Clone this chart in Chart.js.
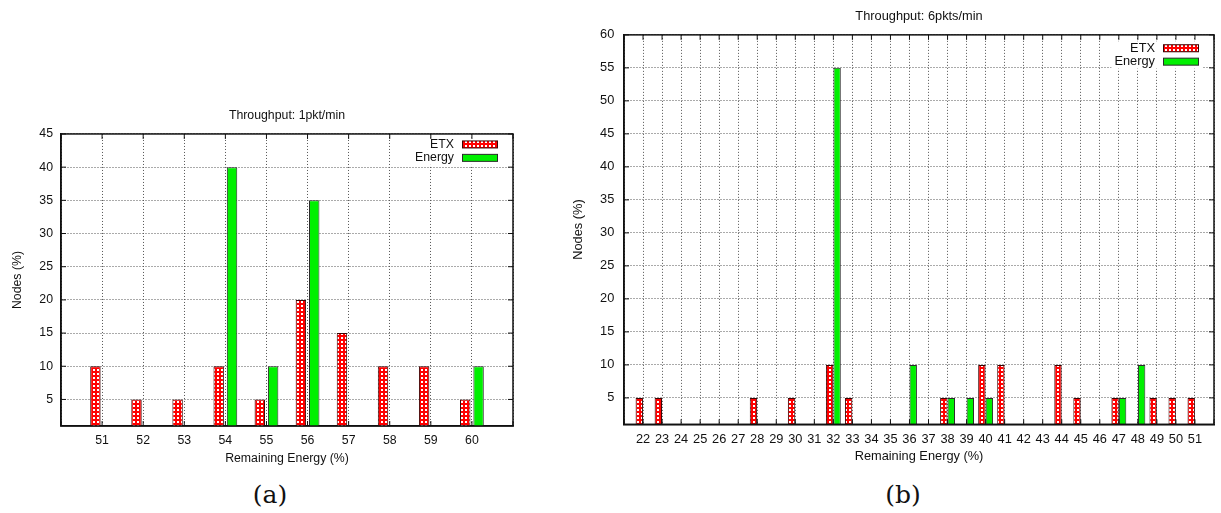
<!DOCTYPE html>
<html>
<head>
<meta charset="utf-8">
<script src="https://cdn.jsdelivr.net/npm/chart.js@4.4.0/dist/chart.umd.min.js"></script>
<style>
    html, body { margin: 0; padding: 0; background: #fff; }
    body { width: 1221px; height: 513px; position: relative; overflow: hidden; }
    .box { position: absolute; }
    .cap { position: absolute; font-family: "DejaVu Serif", serif; font-size: 25px; color: #111;
           transform: translate(-50%, -50%); white-space: nowrap; }
</style>
</head>
<body>
<div class="box" style="left:0;top:100px;width:530px;height:370px"><canvas id="dashGraphA"></canvas></div>
<div class="box" style="left:560px;top:0;width:661px;height:470px"><canvas id="dashGraphB"></canvas></div>
<div class="cap" style="left:270px;top:494px">(a)</div>
<div class="cap" style="left:903px;top:494px">(b)</div>
<script>
// (a) Throughput: 1pkt/min
const remainingA = ['51', '52', '53', '54', '55', '56', '57', '58', '59', '60'];
const etxA = [10, 5, 5, 10, 5, 20, 15, 10, 10, 5];
const energyA = [0, 0, 0, 40, 10, 35, 0, 0, 0, 10];

// (b) Throughput: 6pkts/min
const remainingB = ['22', '23', '24', '25', '26', '27', '28', '29', '30', '31',
                    '32', '33', '34', '35', '36', '37', '38', '39', '40', '41',
                    '42', '43', '44', '45', '46', '47', '48', '49', '50', '51'];
const etxB = [5, 5, 0, 0, 0, 0, 5, 0, 5, 0,
              10, 5, 0, 0, 0, 0, 5, 0, 10, 10,
              0, 0, 10, 5, 0, 5, 0, 5, 5, 5];
const energyB = [0, 0, 0, 0, 0, 0, 0, 0, 0, 0,
                 55, 0, 0, 0, 10, 0, 5, 5, 5, 0,
                 0, 0, 0, 0, 0, 5, 10, 0, 0, 0];

const FONT = '"Liberation Sans", Arial, sans-serif';
const TEXT = '#111';

// red checkered fill like gnuplot's pattern
function make_pattern() {
    const tile = document.createElement('canvas');
    tile.width = 4;
    tile.height = 4;
    const c = tile.getContext('2d');
    c.fillStyle = '#ff0000';
    c.fillRect(0, 0, 4, 4);
    c.fillStyle = '#ffffff';
    c.fillRect(1, 1, 2, 2);
    return c.createPattern(tile, 'repeat');
}
const etxFill = make_pattern();

// full box + inward ticks
const framePlugin = {
    id: 'frame',
    afterDraw(chart) {
        const ctx = chart.ctx;
        const a = chart.chartArea;
        const x = chart.scales.x, y = chart.scales.y;
        ctx.save();
        ctx.strokeStyle = TEXT;
        ctx.lineWidth = 1;
        ctx.beginPath();
        for (let i = 0; i < x.ticks.length; i++) {
            const px = x.getPixelForTick(i);
            ctx.moveTo(px, a.bottom); ctx.lineTo(px, a.bottom - 5);
            ctx.moveTo(px, a.top); ctx.lineTo(px, a.top + 5);
        }
        for (let i = 0; i < y.ticks.length; i++) {
            const py = y.getPixelForTick(i);
            ctx.moveTo(a.left, py); ctx.lineTo(a.left + 5, py);
            ctx.moveTo(a.right, py); ctx.lineTo(a.right - 5, py);
        }
        ctx.stroke();
        ctx.lineWidth = 1.5;
        ctx.strokeRect(a.left, a.top, a.right - a.left, a.bottom - a.top);
        ctx.restore();
    }
};

// key in the top right corner, text before the swatch
const keyPlugin = {
    id: 'insideKey',
    afterDatasetsDraw(chart, args, opts) {
        const ctx = chart.ctx;
        const a = chart.chartArea;
        const sets = chart.data.datasets;
        const swRight = a.right - 15;
        const swLeft = swRight - 36;
        ctx.save();
        ctx.font = opts.size + 'px ' + FONT;
        let widest = 0;
        for (let ds of sets) widest = Math.max(widest, ctx.measureText(ds.label).width);
        ctx.fillStyle = '#fff';
        ctx.fillRect(swLeft - 8 - widest - 3, a.top + opts.top - 7,
                     widest + 8 + 36 + 6, opts.row * (sets.length - 1) + 14);
        sets.forEach((ds, i) => {
            const yc = a.top + opts.top + i * opts.row;
            ctx.fillStyle = TEXT;
            ctx.textAlign = 'right';
            ctx.textBaseline = 'middle';
            ctx.fillText(ds.label, swLeft - 8, yc);
            ctx.fillStyle = ds.backgroundColor;
            ctx.fillRect(swLeft, yc - 3.5, 36, 7);
            ctx.strokeStyle = ds.borderColor;
            ctx.lineWidth = 1;
            ctx.strokeRect(swLeft + 0.5, yc - 3.5, 35, 7);
        });
        ctx.restore();
    }
};

function make_graph(id, spec) {
    const canv = document.getElementById(id).getContext('2d');
    const font = { family: FONT, size: spec.size };
    return new Chart(canv, {
        type: 'bar',
        data: {
            labels: ['', ...spec.labels, ''],
            datasets: [{
                label: 'ETX',
                data: [null, ...spec.etx, null],
                backgroundColor: etxFill,
                borderColor: '#3a0505',
                borderWidth: 1,
                categoryPercentage: spec.catPct,
                barPercentage: spec.barPct,
                clip: 0
            }, {
                label: 'Energy',
                data: [null, ...spec.energy, null],
                backgroundColor: '#00f000',
                borderColor: '#2a2a2a',
                borderWidth: 1,
                categoryPercentage: spec.catPct,
                barPercentage: spec.barPct,
                clip: 0
            }]
        },
        options: {
            animation: false,
            responsive: true,
            maintainAspectRatio: false,
            devicePixelRatio: 1,
            layout: { padding: { left: 0, right: spec.padRight, top: 0, bottom: 0 } },
            plugins: {
                legend: { display: false },
                tooltip: { enabled: false },
                title: {
                    display: true,
                    text: spec.title,
                    fullSize: false,
                    color: TEXT,
                    font: { family: FONT, size: spec.size, weight: 'normal' },
                    padding: { top: 8.3, bottom: spec.titleGap }
                },
                insideKey: { size: spec.size, top: spec.keyTop, row: 13.4 }
            },
            scales: {
                x: {
                    type: 'category',
                    offset: false,
                    grid: { offset: false, color: '#555', lineWidth: 1, drawTicks: false },
                    border: { color: TEXT, width: 1.5, dash: [1, 2] },
                    ticks: { padding: 7, color: TEXT, font: font, maxRotation: 0, autoSkip: false },
                    title: {
                        display: true,
                        text: 'Remaining Energy (%)',
                        color: TEXT,
                        font: font,
                        padding: { top: 0, bottom: spec.xTitleGap }
                    },
                    afterFit: (s) => { s.height = spec.xHeight; }
                },
                y: {
                    min: 1,
                    max: spec.yMax,
                    grid: { color: '#555', lineWidth: 1, drawTicks: false },
                    border: { color: TEXT, width: 1.5, dash: [1, 2] },
                    ticks: { stepSize: 5, padding: spec.yPad, color: TEXT, font: font },
                    afterBuildTicks: (s) => { s.ticks = s.ticks.filter(t => t.value % 5 === 0); },
                    title: {
                        display: true,
                        text: 'Nodes (%)',
                        color: TEXT,
                        font: font,
                        padding: { top: 10.6, bottom: 0 }
                    },
                    afterFit: (s) => { s.width = spec.yWidth; }
                }
            }
        },
        plugins: [framePlugin, keyPlugin]
    });
}

make_graph('dashGraphA', {
    title: 'Throughput: 1pkt/min',
    labels: remainingA, etx: etxA, energy: energyA,
    size: 12.3, yMax: 45,
    catPct: 0.65, barPct: 0.78,
    padRight: 17, yWidth: 61, yPad: 8, xHeight: 44, xTitleGap: 4,
    titleGap: 10.9, keyTop: 10.5
});

make_graph('dashGraphB', {
    title: 'Throughput: 6pkts/min',
    labels: remainingB, etx: etxB, energy: energyB,
    size: 12.8, yMax: 60,
    catPct: 0.79, barPct: 0.98,
    padRight: 5, yWidth: 64, yPad: 9.7, xHeight: 45.7, xTitleGap: 5.6,
    titleGap: 11.2, keyTop: 13.4
});
</script>
</body>
</html>
